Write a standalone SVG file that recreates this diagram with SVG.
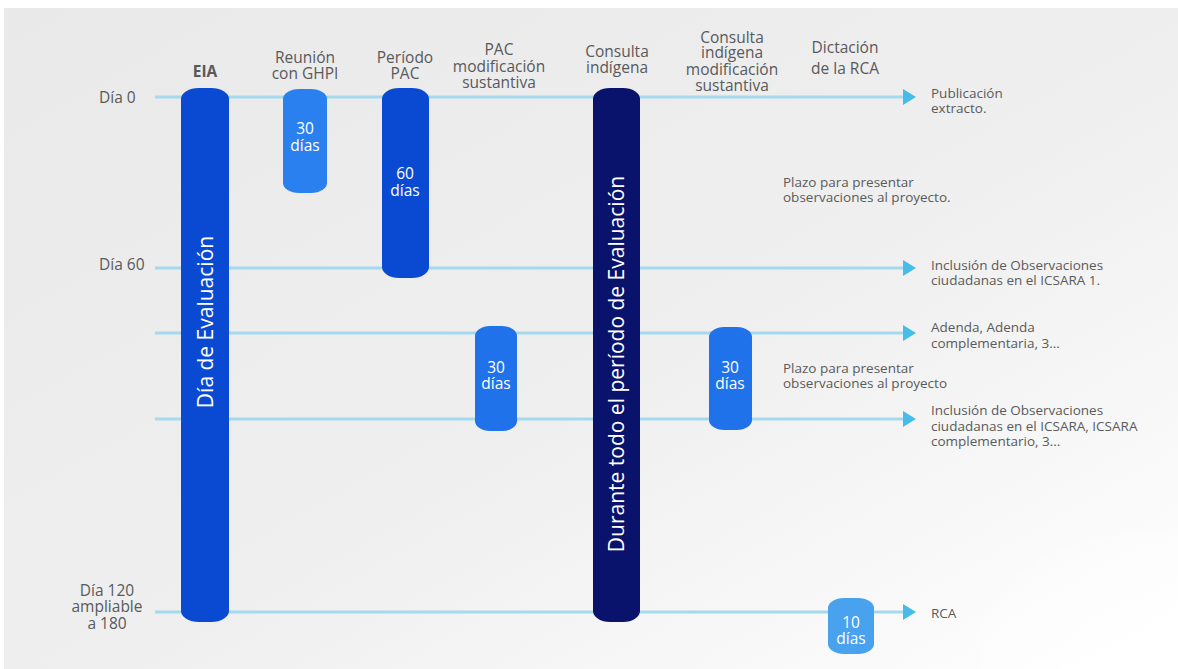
<svg xmlns="http://www.w3.org/2000/svg" width="1178" height="669" viewBox="0 0 1178 669">
<defs>
<linearGradient id="bg" x1="0" y1="0" x2="1" y2="1">
<stop offset="0" stop-color="#e9e9e9"/>
<stop offset="0.55" stop-color="#efefef"/>
<stop offset="1" stop-color="#ffffff"/>
</linearGradient>
<radialGradient id="glow" cx="1" cy="1" r="0.5">
<stop offset="0" stop-color="#ffffff" stop-opacity="1"/>
<stop offset="1" stop-color="#ffffff" stop-opacity="0"/>
</radialGradient>
<marker id="arr" markerUnits="userSpaceOnUse" markerWidth="14" markerHeight="18" refX="0" refY="9" orient="auto">
<path d="M0,1 L13,9 L0,17 Z" fill="#46bde9"/>
</marker>
<style>
text{font-family:"Open Sans","Noto Sans","Liberation Sans",sans-serif}
.hd{font-size:15.5px;fill:#58595b;text-anchor:middle}
.lb{font-size:15.5px;fill:#58595b}
.sm{font-size:13.5px;fill:#5a5a5a}
.bt{font-size:15.5px;fill:#ffffff;text-anchor:middle}
.rt{font-size:21px;fill:#ffffff;text-anchor:middle;dominant-baseline:central}
.ln{stroke:#a4d9ee;stroke-width:3;fill:none}
</style>
</defs>
<rect x="0" y="0" width="1178" height="669" fill="#ffffff"/>
<rect x="4" y="8" width="1174" height="661" fill="url(#bg)"/>
<rect x="700" y="350" width="478" height="319" fill="url(#glow)"/>

<g id="connectors">
<line class="ln" x1="155" y1="97" x2="903" y2="97" marker-end="url(#arr)"/>
<line class="ln" x1="155" y1="268" x2="903" y2="268" marker-end="url(#arr)"/>
<line class="ln" x1="155" y1="333" x2="903" y2="333" marker-end="url(#arr)"/>
<line class="ln" x1="155" y1="419" x2="903" y2="419" marker-end="url(#arr)"/>
<line class="ln" x1="155" y1="612" x2="903" y2="612" marker-end="url(#arr)"/>
</g>

<g id="row-labels">
<text class="lb" x="99" y="102.5">Día 0</text>
<text class="lb" x="99" y="269.5">Día 60</text>
<text class="lb" text-anchor="middle"><tspan x="107" y="595.5">Día 120</tspan><tspan x="107" y="612">ampliable</tspan><tspan x="107" y="628.5">a 180</tspan></text>
</g>

<g id="eia">
<text class="hd" x="205" y="76.5" font-weight="bold" fill="#444">EIA</text>
<rect x="181" y="88" width="48" height="534" rx="18" ry="11" fill="#0a4ad3"/>
<text class="rt" x="205" y="322" transform="rotate(-90 205 322)">Día de Evaluación</text>
</g>

<g id="reunion-ghpi">
<text class="hd"><tspan x="305" y="62.5">Reunión</tspan><tspan x="305" y="78.5">con GHPI</tspan></text>
<rect x="283" y="89" width="44" height="104" rx="16" ry="10" fill="#2b80ef"/>
<text class="bt"><tspan x="305" y="133.5">30</tspan><tspan x="305" y="150.5">días</tspan></text>
</g>

<g id="periodo-pac">
<text class="hd"><tspan x="405" y="62.5">Período</tspan><tspan x="405" y="78.5">PAC</tspan></text>
<rect x="382" y="88" width="47" height="190" rx="17" ry="11" fill="#0a4ad3"/>
<text class="bt"><tspan x="405" y="178.5">60</tspan><tspan x="405" y="196">días</tspan></text>
</g>

<g id="pac-modificacion">
<text class="hd"><tspan x="499" y="54.5">PAC</tspan><tspan x="499" y="71.5">modificación</tspan><tspan x="499" y="88">sustantiva</tspan></text>
<rect x="475" y="326" width="42" height="105" rx="15" ry="10" fill="#1f72ea"/>
<text class="bt"><tspan x="496" y="372.5">30</tspan><tspan x="496" y="388.5">días</tspan></text>
</g>

<g id="consulta-indigena">
<text class="hd"><tspan x="617" y="56.5">Consulta</tspan><tspan x="617" y="72.5">indígena</tspan></text>
<rect x="593" y="88" width="47" height="534" rx="17" ry="11" fill="#0a136b"/>
<text class="rt" x="616" y="364" transform="rotate(-90 616 364)">Durante todo el período de Evaluación</text>
</g>

<g id="consulta-indigena-modificacion">
<text class="hd"><tspan x="732" y="42.5">Consulta</tspan><tspan x="732" y="58">indígena</tspan><tspan x="732" y="74.5">modificación</tspan><tspan x="732" y="90.5">sustantiva</tspan></text>
<rect x="709" y="327" width="43" height="103" rx="15" ry="10" fill="#1f72ea"/>
<text class="bt"><tspan x="730" y="372.5">30</tspan><tspan x="730" y="388.5">días</tspan></text>
</g>

<g id="dictacion-rca">
<text class="hd"><tspan x="845" y="52.5">Dictación</tspan><tspan x="845" y="73.5">de la RCA</tspan></text>
<rect x="828" y="598" width="46" height="56" rx="16" ry="10" fill="#48a2ee"/>
<text class="bt"><tspan x="851" y="627.5">10</tspan><tspan x="851" y="643.5">días</tspan></text>
</g>

<g id="notes">
<text class="sm"><tspan x="931" y="98">Publicación</tspan><tspan x="931" y="113">extracto.</tspan></text>
<text class="sm"><tspan x="783" y="187">Plazo para presentar</tspan><tspan x="783" y="201.5">observaciones al proyecto.</tspan></text>
<text class="sm"><tspan x="931" y="270">Inclusión de Observaciones</tspan><tspan x="931" y="284.5">ciudadanas en el ICSARA 1.</tspan></text>
<text class="sm"><tspan x="931" y="332">Adenda, Adenda</tspan><tspan x="931" y="347.5">complementaria, 3...</tspan></text>
<text class="sm"><tspan x="783" y="373">Plazo para presentar</tspan><tspan x="783" y="388">observaciones al proyecto</tspan></text>
<text class="sm"><tspan x="931" y="415">Inclusión de Observaciones</tspan><tspan x="931" y="430.5">ciudadanas en el ICSARA, ICSARA</tspan><tspan x="931" y="446">complementario, 3...</tspan></text>
<text class="sm" x="931" y="618">RCA</text>
</g>
</svg>
